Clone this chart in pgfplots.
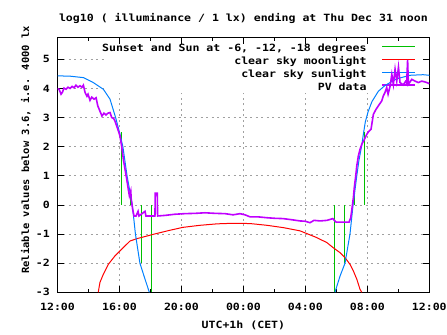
\documentclass[border=0pt]{standalone}
\usepackage{fontspec}
\newfontfamily\gfont[FakeStretch=1.16]{DejaVu Sans Mono}
\newfontfamily\yfont[FakeStretch=1.05]{DejaVu Sans Mono}
\usepackage{pgfplots}
\pgfplotsset{compat=1.18}
\definecolor{gpgreen}{HTML}{00C000}
\definecolor{gpred}{HTML}{FF0000}
\definecolor{gpblue}{HTML}{0080FF}
\definecolor{gpmag}{HTML}{C000FF}
\definecolor{gridgray}{HTML}{A0A0A0}
\pgfplotsset{
  common/.style={
    scale only axis, width=371.8bp, height=254.3bp,
    xmin=0, xmax=24, ymin=-3, ymax=5.73,
    xtick={0,4,...,24}, ytick={-3,...,5},
    minor xtick={2,6,...,22},
  }
}
\begin{document}
\begin{tikzpicture}
\path[use as bounding box] (-57.5bp,-42bp) rectangle (389.5bp,292.3bp);
% background axis: grid and legend
\begin{axis}[common,
  grid=major,
  major grid style={gridgray, dash pattern=on 2bp off 3.5bp, line width=0.8bp},
  xticklabels={}, yticklabels={},
  major tick length=0pt, minor tick length=0pt,
  axis line style={draw=none},
  legend cell align=right, legend plot pos=right,
  legend image code/.code={\draw[#1] (0bp,2.8bp) -- (32.4bp,2.8bp);},
  legend style={at={(axis description cs:1,1)}, anchor=north east,
    xshift=-13.6bp, yshift=-6.1bp, draw=none, fill=none, inner sep=0pt,
    row sep=3.1bp, column sep=15bp,
    nodes={inner sep=0pt, text height=7.5bp, text depth=2.3bp, font=\gfont\bfseries}},
]
\fill[white] (rel axis cs:0.125,0.785) rectangle (rel axis cs:1,1);
\addlegendimage{gpgreen, line width=1bp}
\addlegendentry{Sunset and Sun at -6, -12, -18 degrees}
\addlegendimage{gpred, line width=1bp}
\addlegendentry{clear sky moonlight}
\addlegendimage{gpblue, line width=1bp}
\addlegendentry{clear sky sunlight}
\addlegendimage{gpmag, line width=1.6bp}
\addlegendentry{PV data}
\end{axis}
% foreground axis: data, frame, ticks, labels
\begin{axis}[common,
  unbounded coords=jump,
  major tick length=6bp, minor tick length=3bp,
  tick style={black, line width=0.8bp},
  axis line style={black, line width=1bp},
  xticklabels={12:00,16:00,20:00,00:00,04:00,08:00,12:00},
  yticklabels={-3,-2,-1,0,1,2,3,4,5},
  xticklabel style={anchor=base, yshift=-17.7bp, inner sep=0pt, font=\gfont\bfseries},
  yticklabel style={anchor=east, xshift=-7.5bp, inner sep=0pt, font=\gfont\bfseries},
  title={log10 ( illuminance / 1 lx) ending at Thu Dec 31 noon},
  title style={at={(axis description cs:0.5,1)}, anchor=base, yshift=10.4bp, inner sep=0pt, font=\gfont\bfseries},
  xlabel={UTC+1h (CET)},
  xlabel style={at={(axis description cs:0.5,0)}, anchor=base, yshift=-36.5bp, inner sep=0pt, font=\gfont\bfseries},
  ylabel={Reliable values below 3.6, i.e. 4000 lx},
  ylabel style={at={(axis description cs:-0.0855,0.56)}, anchor=center, inner sep=0pt, font=\yfont\bfseries},
]
\addplot[gpgreen, line width=1bp] coordinates {
(4.10,0) (4.10,2.5) (4.10,nan)
(4.73,0) (4.73,0.5) (4.73,nan)
(5.44,0) (5.44,-2) (5.44,nan)
(6.04,0) (6.04,-3) (6.04,nan)
(17.87,0) (17.87,-3) (17.87,nan)
(18.52,0) (18.52,-2) (18.52,nan)
(19.16,0) (19.16,0.5) (19.16,nan)
(19.81,0) (19.81,2.5)
};
\addplot[gpred, line width=1bp] coordinates {
(2.63,-3.0) (2.74,-2.66) (2.96,-2.38) (3.28,-2.04) (3.71,-1.75) (4.14,-1.52)
(4.68,-1.24) (5.11,-1.16) (5.76,-1.07) (6.18,-1.01) (7.26,-0.87) (8.10,-0.77)
(9.20,-0.70) (10.30,-0.65) (11.33,-0.63) (12.43,-0.64) (13.52,-0.70) (14.58,-0.78)
(15.65,-0.89) (16.73,-1.12) (16.95,-1.18) (17.38,-1.29) (17.80,-1.47) (18.24,-1.64)
(18.56,-1.81) (18.88,-2.04) (19.10,-2.27) (19.32,-2.55) (19.53,-2.90) (19.64,-3.0)
};
\addplot[gpblue, line width=1bp] coordinates {
(0,4.43) (0.8,4.42) (1.67,4.37) (2.31,4.20) (2.96,3.97) (3.39,3.63) (3.75,3.0)
(4.0,2.5) (4.22,2.0) (4.49,1.0) (4.83,0) (5.03,-1) (5.32,-2) (5.65,-2.55) (5.93,-3.0)
(5.93,nan)
(17.91,-3.0) (18.24,-2.44) (18.56,-2.0) (18.72,-1.5) (18.88,-1.0) (19.0,-0.4)
(19.08,0) (19.2,0.5) (19.32,1.0) (19.45,1.5) (19.64,2.05) (19.75,2.45) (19.87,2.85)
(20.05,3.2) (20.30,3.55) (20.71,3.9) (21.14,4.1) (21.9,4.33) (22.76,4.45) (23.6,4.47) (24,4.45)
};
\addplot[gpmag, line width=1.6bp] coordinates {
(0,3.99) (0.10,3.97) (0.23,3.80) (0.32,3.87) (0.42,4.01) (0.55,3.97) (0.68,4.04)
(0.81,4.00) (0.94,4.07) (1.07,4.02) (1.19,4.11) (1.32,4.04) (1.45,4.09) (1.58,4.04)
(1.67,4.11) (1.78,3.86) (1.90,3.73) (1.97,3.80) (2.10,3.59) (2.21,3.70) (2.36,3.63)
(2.49,3.68) (2.60,3.40) (2.74,3.22) (2.87,3.05) (3.00,3.15) (3.13,3.09) (3.26,3.15)
(3.39,3.17) (3.50,3.00) (3.62,2.97) (3.71,2.88) (3.82,2.71) (3.93,2.54) (4.03,2.37)
(4.14,2.02) (4.25,1.57) (4.36,1.22) (4.47,0.88) (4.57,0.54) (4.64,0.31) (4.73,0.48)
(4.76,0.19) (4.79,0.08) (4.85,-0.15) (4.94,-0.38) (5.07,-0.38) (5.20,-0.22) (5.26,-0.38)
(5.65,-0.22) (5.71,-0.38) (6.29,-0.38) (6.31,0.40) (6.44,0.40) (6.46,-0.38) (6.94,-0.36)
(7.59,-0.32) (8.23,-0.30) (8.88,-0.29) (9.52,-0.27) (10.17,-0.29) (10.81,-0.30)
(11.33,-0.34) (11.78,-0.30) (12.10,-0.34) (12.43,-0.41) (12.94,-0.41) (13.52,-0.44)
(14.04,-0.46) (14.56,-0.47) (15.14,-0.51) (15.65,-0.55) (15.98,-0.56) (16.30,-0.61)
(16.56,-0.53) (16.95,-0.55) (17.40,-0.53) (17.77,-0.47) (17.98,-0.59) (18.43,-0.59)
(18.82,-0.59) (18.93,-0.44) (19.03,-0.04) (19.10,0.25) (19.16,0.60) (19.25,0.99)
(19.32,1.34) (19.42,1.68) (19.53,1.91) (19.64,2.08) (19.81,2.25) (19.96,2.42)
(20.06,2.50) (20.24,2.60) (20.39,3.11) (20.56,3.28) (20.71,3.40) (20.93,3.57)
(21.03,3.74) (21.14,3.86) (21.25,4.03) (21.34,3.80) (21.47,4.08) (21.58,4.48)
(21.68,4.14) (21.79,4.66) (21.90,4.25) (22.01,4.73) (22.11,4.20) (22.32,4.12)
(22.47,4.24) (22.54,4.18) (22.60,4.98) (22.65,4.14) (22.87,4.31) (23.08,4.25)
(23.29,4.20) (23.51,4.25) (23.73,4.22) (23.94,4.18) (24,4.16)
};
\end{axis}
\end{tikzpicture}
\end{document}
